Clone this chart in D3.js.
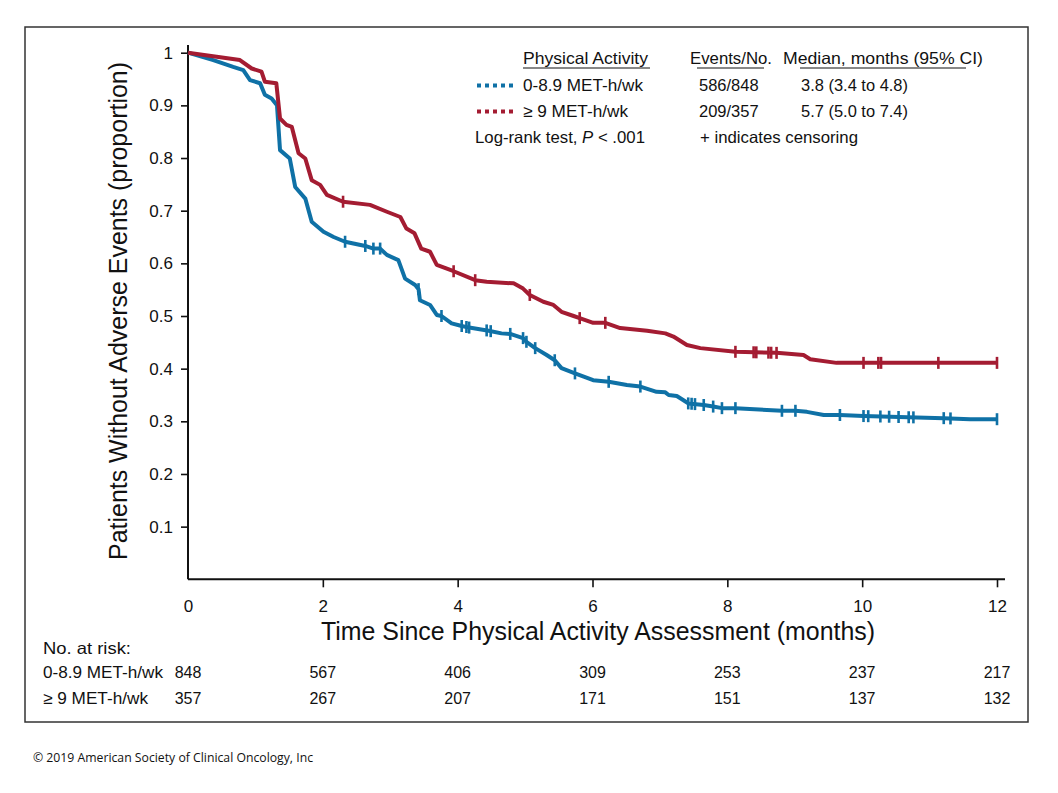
<!DOCTYPE html>
<html>
<head>
<meta charset="utf-8">
<script src="https://cdn.jsdelivr.net/npm/d3@7/dist/d3.min.js"></script>
<style>
  html, body { margin: 0; padding: 0; background: #fff; }
  svg { display: block; }
  text { font-family: "Liberation Sans", Arial, Helvetica, sans-serif; fill: #111; }
</style>
</head>
<body>
<svg id="chart" width="1058" height="793"></svg>
<script>
// ---------- Data ----------
const xTicks = [0, 2, 4, 6, 8, 10, 12];
const yTicks = [0.1, 0.2, 0.3, 0.4, 0.5, 0.6, 0.7, 0.8, 0.9, 1];

// Low activity group: 0-8.9 MET-h/wk
const lowTime = [0,0.375,0.67,0.82,0.92,1.07,1.14,1.24,1.32,1.365,1.51,1.59,1.74,1.835,2.01,2.16,2.33,2.63,2.75,2.85,2.95,3.12,3.22,3.37,3.42,3.44,3.59,3.69,3.76,3.91,4.06,4.17,4.46,4.65,4.78,4.97,5.02,5.15,5.32,5.44,5.54,5.74,6.01,6.24,6.51,6.71,6.95,7.08,7.13,7.25,7.35,7.42,7.65,7.79,7.92,8.12,8.81,9.01,9.18,9.43,9.67,10.02,11.21,11.60,12.0];
const lowSurv = [1,0.986,0.973,0.967,0.948,0.942,0.920,0.913,0.900,0.815,0.799,0.745,0.723,0.679,0.660,0.650,0.641,0.633,0.628,0.628,0.616,0.606,0.571,0.559,0.551,0.530,0.521,0.502,0.500,0.486,0.481,0.478,0.472,0.467,0.466,0.458,0.451,0.439,0.426,0.416,0.401,0.391,0.378,0.375,0.369,0.366,0.356,0.355,0.350,0.348,0.340,0.334,0.331,0.328,0.325,0.325,0.320,0.320,0.318,0.312,0.312,0.310,0.306,0.304,0.304];
const lowCensor = [2.33,2.63,2.75,2.85,3.42,3.76,4.06,4.13,4.17,4.43,4.49,4.78,4.97,5.02,5.15,5.44,5.74,6.24,6.71,7.42,7.47,7.52,7.65,7.79,7.92,8.12,8.81,9.01,9.67,10.02,10.09,10.27,10.40,10.54,10.69,10.76,11.21,11.31,12.0];

// High activity group: >= 9 MET-h/wk
const highTime = [0,0.77,0.945,1.09,1.14,1.31,1.365,1.46,1.54,1.64,1.74,1.835,1.96,2.06,2.30,2.70,2.95,3.15,3.24,3.36,3.46,3.59,3.69,3.94,4.26,4.43,4.83,4.97,5.07,5.27,5.42,5.54,5.72,5.81,6.01,6.19,6.41,6.81,7.08,7.20,7.40,7.60,8.12,8.73,9.13,9.23,9.62,12.0];
const highSurv = [1,0.986,0.970,0.964,0.945,0.942,0.875,0.863,0.859,0.809,0.799,0.758,0.749,0.730,0.717,0.711,0.698,0.688,0.666,0.657,0.628,0.622,0.597,0.585,0.568,0.565,0.562,0.552,0.540,0.527,0.521,0.508,0.500,0.496,0.487,0.487,0.477,0.472,0.467,0.461,0.445,0.439,0.432,0.430,0.426,0.418,0.411,0.411];
const highCensor = [2.30,3.94,4.26,5.07,5.81,6.19,8.12,8.39,8.43,8.61,8.65,8.73,10.02,10.24,10.28,11.13,12.0];

// Numbers at risk
const riskTimes = [0, 2, 4, 6, 8, 10, 12];
const riskLow = [848, 567, 406, 309, 253, 237, 217];
const riskHigh = [357, 267, 207, 171, 151, 137, 132];

// Legend table
const groupLabels = ["0-8.9 MET-h/wk", "\u2265 9 MET-h/wk"];
const eventsNo = ["586/848", "209/357"];
const medians = ["3.8 (3.4 to 4.8)", "5.7 (5.0 to 7.4)"];

const colors = { low: "#0f71a6", high: "#a41c32" };

// ---------- Drawing ----------
const svg = d3.select("#chart");

// outer frame
svg.append("rect")
  .attr("x", 25).attr("y", 27).attr("width", 1003).attr("height", 695)
  .attr("fill", "none").attr("stroke", "#333").attr("stroke-width", 1.5);

const x = d3.scaleLinear().domain([0, 12]).range([188, 997]);
const y = d3.scaleLinear().domain([0, 1]).range([579.3, 52.7]);

// Y axis
const yAxis = d3.axisLeft(y).tickValues(yTicks).tickSize(7).tickPadding(8)
  .tickFormat(d => d === 1 ? "1" : d.toFixed(1));
const gy = svg.append("g").attr("transform", "translate(188,0)").call(yAxis);
gy.select(".domain").remove();
gy.selectAll(".tick line").attr("stroke", "#111").attr("stroke-width", 1.6);
gy.selectAll(".tick text").attr("font-size", 17).attr("fill", "#111")
  .style("font-family", "'Liberation Sans', Arial, sans-serif");
svg.append("line").attr("x1", 188).attr("x2", 188).attr("y1", 45).attr("y2", y(0))
  .attr("stroke", "#111").attr("stroke-width", 2);

// X axis
const xAxis = d3.axisBottom(x).tickValues(xTicks).tickSize(8).tickPadding(13)
  .tickFormat(d3.format("d"));
const gx = svg.append("g").attr("transform", `translate(0,${y(0)})`).call(xAxis);
gx.select(".domain").remove();
gx.selectAll(".tick line").attr("stroke", "#111").attr("stroke-width", 1.6)
  .attr("opacity", d => d === 0 ? 0 : 1);
gx.selectAll(".tick text").attr("font-size", 17).attr("fill", "#111")
  .style("font-family", "'Liberation Sans', Arial, sans-serif");
svg.append("line").attr("x1", 188).attr("x2", 1005).attr("y1", y(0)).attr("y2", y(0))
  .attr("stroke", "#111").attr("stroke-width", 2);

// Axis titles
svg.append("text")
  .attr("x", 598).attr("y", 640).attr("text-anchor", "middle")
  .attr("font-size", 25).attr("textLength", 554).attr("lengthAdjust", "spacingAndGlyphs")
  .style("font-family", "'Liberation Sans Narrow', 'Arial Narrow', 'Liberation Sans', sans-serif")
  .text("Time Since Physical Activity Assessment (months)");
svg.append("text")
  .attr("transform", "translate(127,311) rotate(-90)").attr("text-anchor", "middle")
  .attr("font-size", 25).attr("textLength", 498).attr("lengthAdjust", "spacingAndGlyphs")
  .style("font-family", "'Liberation Sans Narrow', 'Arial Narrow', 'Liberation Sans', sans-serif")
  .text("Patients Without Adverse Events (proportion)");

// Curves
const series = [
  { key: "low", t: lowTime, s: lowSurv, c: lowCensor },
  { key: "high", t: highTime, s: highSurv, c: highCensor }
];
function survAt(t, times, surv) {
  const i = d3.bisectRight(times, t) - 1;
  if (i >= times.length - 1) return surv[surv.length - 1];
  if (i < 0) return surv[0];
  const f = (t - times[i]) / (times[i + 1] - times[i]);
  return surv[i] + f * (surv[i + 1] - surv[i]);
}
const line = d3.line().x(d => x(d[0])).y(d => y(d[1])).curve(d3.curveLinear);
series.forEach(sr => {
  const pts = sr.t.map((t, i) => [t, sr.s[i]]);
  svg.append("path").datum(pts).attr("d", line)
    .attr("fill", "none").attr("stroke", colors[sr.key]).attr("stroke-width", 4)
    .attr("stroke-linejoin", "round");
  svg.append("g").selectAll("line").data(sr.c).join("line")
    .attr("x1", d => x(d)).attr("x2", d => x(d))
    .attr("y1", d => y(survAt(d, sr.t, sr.s)) - 6)
    .attr("y2", d => y(survAt(d, sr.t, sr.s)) + 6)
    .attr("stroke", colors[sr.key]).attr("stroke-width", 2.6);
});

// helper: text with a fixed width matching the reference typeface
function fitText(g, xPos, yPos, str, width, size) {
  return g.append("text").attr("x", xPos).attr("y", yPos).attr("font-size", size || 16)
    .attr("textLength", width).attr("lengthAdjust", "spacingAndGlyphs").text(str);
}

// Legend
const lg = svg.append("g").attr("font-size", 16.5);
const hdrY = 64;
fitText(lg, 523, hdrY, "Physical Activity", 125, 16.5);
fitText(lg, 690, hdrY, "Events/No.", 82, 16.5);
fitText(lg, 783, hdrY, "Median, months (95% CI)", 200, 16.5);
[[523, 650], [697, 764], [800, 966]].forEach(([a, b]) => {
  lg.append("line").attr("x1", a).attr("x2", b).attr("y1", 68).attr("y2", 68)
    .attr("stroke", "#111").attr("stroke-width", 1.2);
});
const rowY = [90.5, 116.5];
const groupW = [120, 105];
["low", "high"].forEach((k, i) => {
  lg.append("line").attr("x1", 477).attr("x2", 513)
    .attr("y1", rowY[i] - 5).attr("y2", rowY[i] - 5)
    .attr("stroke", colors[k]).attr("stroke-width", 4).attr("stroke-dasharray", "4,4");
  fitText(lg, 523, rowY[i], groupLabels[i], groupW[i], 16.5);
  lg.append("text").attr("x", 699).attr("y", rowY[i]).text(eventsNo[i]);
  fitText(lg, 801, rowY[i], medians[i], 107, 16.5);
});
const lr = lg.append("text").attr("x", 475).attr("y", 142.5)
  .attr("textLength", 170).attr("lengthAdjust", "spacingAndGlyphs");
lr.append("tspan").text("Log-rank test, ");
lr.append("tspan").attr("font-style", "italic").text("P");
lr.append("tspan").text(" < .001");
fitText(lg, 700, 142.5, "+ indicates censoring", 158, 16.5);

// Numbers at risk
const rk = svg.append("g").attr("font-size", 16);
fitText(rk, 43, 654, "No. at risk:", 88, 16.5);
fitText(rk, 43, 678, groupLabels[0], 120, 16.5);
fitText(rk, 43, 704, groupLabels[1], 105, 16.5);
rk.append("g").selectAll("text").data(riskLow).join("text")
  .attr("x", (d, i) => x(riskTimes[i])).attr("y", 678).attr("text-anchor", "middle").text(d => d);
rk.append("g").selectAll("text").data(riskHigh).join("text")
  .attr("x", (d, i) => x(riskTimes[i])).attr("y", 704).attr("text-anchor", "middle").text(d => d);

// Copyright
svg.append("text").attr("x", 33).attr("y", 762).attr("font-size", 12)
  .attr("textLength", 280).attr("lengthAdjust", "spacingAndGlyphs")
  .style("font-family", "'Open Sans', 'Noto Sans', sans-serif")
  .text("\u00a9 2019 American Society of Clinical Oncology, Inc");
</script>
</body>
</html>
